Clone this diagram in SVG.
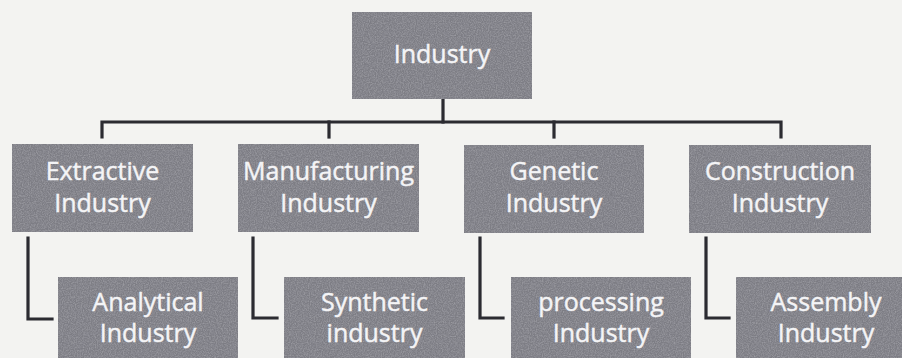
<svg xmlns="http://www.w3.org/2000/svg" width="902" height="358" viewBox="0 0 902 358">
  <defs>
    <style>
      .box { fill: #7d7d84; }
      .grain { filter: url(#grain); }
      .label { font-family: "Open Sans", "Liberation Sans", sans-serif; font-size: 25px; fill: #f4f4f6; stroke: #f4f4f6; stroke-width: 0.45; text-anchor: middle; }
      .wire { fill: none; stroke: #2b2b31; stroke-width: 3.2; stroke-linecap: square; stroke-linejoin: miter; }
    </style>
    <!-- halftone-like speckle over the grey boxes -->
    <filter id="grain" x="0" y="0" width="100%" height="100%">
      <feTurbulence type="fractalNoise" baseFrequency="0.85" numOctaves="2" seed="4" result="n"/>
      <feColorMatrix in="n" type="matrix" values="0 0 0 0 0.35  0 0 0 0 0.35  0 0 0 0 0.38  0 0 0 -1.6 1.05" result="specks"/>
      <feComposite in="specks" in2="SourceGraphic" operator="in" result="clip"/>
      <feMerge>
        <feMergeNode in="SourceGraphic"/>
        <feMergeNode in="clip"/>
      </feMerge>
    </filter>
  </defs>

  <rect width="902" height="358" fill="#f3f3f1"/>

  <!-- connectors -->
  <g id="connectors" class="wire">
    <path d="M443 99 V122"/>
    <path d="M102 137 V122 H781 V137"/>
    <path d="M329 122 V137"/>
    <path d="M554 122 V137"/>
    <path d="M28 238 V319 H52"/>
    <path d="M253 238 V318 H277"/>
    <path d="M480 238 V318 H503"/>
    <path d="M706 238 V318 H729"/>
  </g>

  <!-- root -->
  <g id="industry">
    <rect class="box grain" x="352" y="12" width="180" height="87"/>
    <text class="label" x="442" y="63">Industry</text>
  </g>

  <!-- second level -->
  <g id="extractive">
    <rect class="box grain" x="12" y="144" width="181" height="88"/>
    <text class="label" x="102.5" y="180">Extractive</text>
    <text class="label" x="102.5" y="212">Industry</text>
  </g>
  <g id="manufacturing">
    <rect class="box grain" x="238" y="144" width="181" height="88"/>
    <text class="label" x="328.5" y="180">Manufacturing</text>
    <text class="label" x="328.5" y="212">Industry</text>
  </g>
  <g id="genetic">
    <rect class="box grain" x="464" y="145" width="180" height="88"/>
    <text class="label" x="554" y="180">Genetic</text>
    <text class="label" x="554" y="212">Industry</text>
  </g>
  <g id="construction">
    <rect class="box grain" x="689" y="145" width="182" height="88"/>
    <text class="label" x="780" y="180">Construction</text>
    <text class="label" x="780" y="212">Industry</text>
  </g>

  <!-- third level -->
  <g id="analytical">
    <rect class="box grain" x="58" y="277" width="180" height="90"/>
    <text class="label" x="148" y="311">Analytical</text>
    <text class="label" x="148" y="342">Industry</text>
  </g>
  <g id="synthetic">
    <rect class="box grain" x="284" y="277" width="181" height="90"/>
    <text class="label" x="374.5" y="311">Synthetic</text>
    <text class="label" x="374.5" y="342">industry</text>
  </g>
  <g id="processing">
    <rect class="box grain" x="511" y="277" width="180" height="90"/>
    <text class="label" x="601" y="311">processing</text>
    <text class="label" x="601" y="342">Industry</text>
  </g>
  <g id="assembly">
    <rect class="box grain" x="736" y="277" width="180" height="90"/>
    <text class="label" x="826" y="311">Assembly</text>
    <text class="label" x="826" y="342">Industry</text>
  </g>
</svg>
